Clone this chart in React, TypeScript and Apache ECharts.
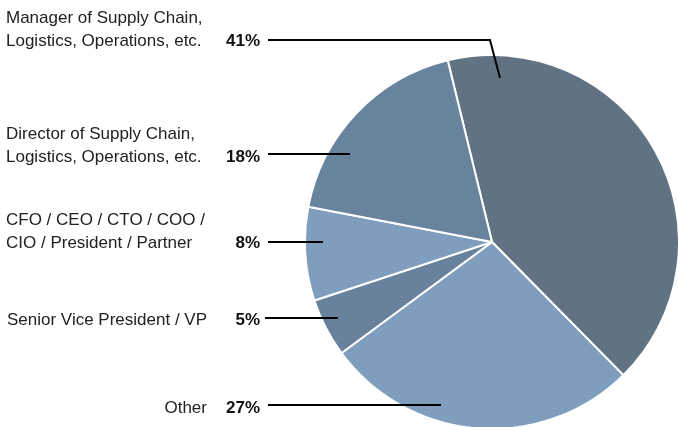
import React, { useEffect, useRef } from "react";
import * as echarts from "echarts";

const names = [
  "Manager of Supply Chain,\nLogistics, Operations, etc.",
  "Other",
  "Senior Vice President / VP",
  "CFO / CEO / CTO / COO /\nCIO / President / Partner",
  "Director of Supply Chain,\nLogistics, Operations, etc.",
];
const values = [41, 27, 5, 8, 18];
const colors = ["#617383", "#7f9ebd", "#68829e", "#7f9ebd", "#68839e"];

// label layout (separate from data)
const nameX = [6, 207, 207, 6, 6];
const nameAlign = ["left", "right", "right", "left", "left"];
const nameY = [29, 407, 319, 231, 145]; // middle of text block
const pctY = [40, 407, 319, 242, 156];
const leaderPts = [
  [[268, 40], [490, 40], [500, 78]],
  [[268, 405], [441, 405]],
  [[265, 318], [338, 318]],
  [[268, 242], [323, 242]],
  [[268, 154], [350, 154]],
];

const FONT = "Liberation Sans, Arial, sans-serif";

export default function App() {
  const ref = useRef<HTMLDivElement>(null);
  useEffect(() => {
    if (!ref.current) return;
    const chart = echarts.init(ref.current, null, { renderer: "svg" });
    const graphic: any[] = [];
    names.forEach((n, i) => {
      graphic.push({
        type: "text",
        style: {
          text: n,
          x: nameX[i],
          y: nameY[i],
          textAlign: nameAlign[i],
          textVerticalAlign: "middle",
          fontFamily: FONT,
          fontSize: 17,
          lineHeight: 23,
          fill: "#222",
        },
      });
      graphic.push({
        type: "text",
        style: {
          text: values[i] + "%",
          x: 260,
          y: pctY[i],
          textAlign: "right",
          textVerticalAlign: "middle",
          fontFamily: FONT,
          fontSize: 17,
          fontWeight: "bold",
          fill: "#111",
        },
      });
      graphic.push({
        type: "polyline",
        z: 100,
        shape: { points: leaderPts[i] },
        style: { stroke: "#000", lineWidth: 2, fill: null },
      });
    });
    chart.setOption({
      animation: false,
      series: [
        {
          type: "pie",
          center: [492, 242],
          radius: 187,
          startAngle: 103.7,
          clockwise: true,
          label: { show: false },
          labelLine: { show: false },
          itemStyle: { borderColor: "#fff", borderWidth: 2 },
          data: values.map((v, i) => ({
            value: v,
            name: names[i],
            itemStyle: { color: colors[i] },
          })),
        },
      ],
      graphic,
    });
    return () => chart.dispose();
  }, []);
  return (
    <div
      ref={ref}
      style={{ position: "fixed", left: 0, top: 0, width: 678, height: 427 }}
    />
  );
}
